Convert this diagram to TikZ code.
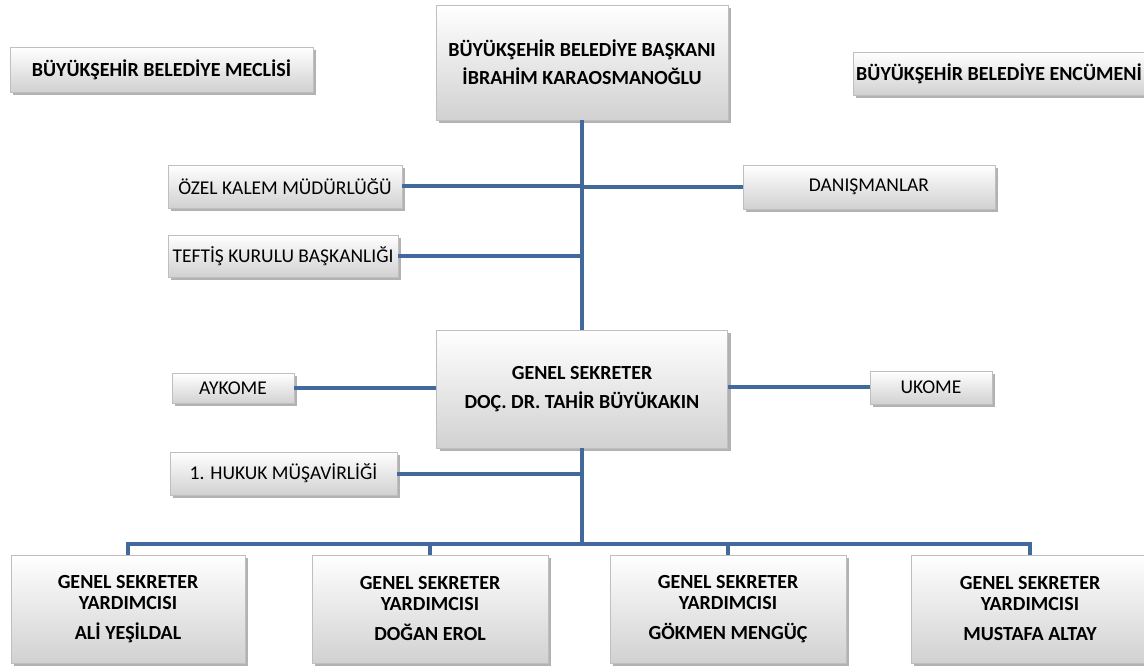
\documentclass[tikz,border=0pt]{standalone}
\usepackage{fontspec}
\setmainfont{Carlito}
\usepackage{tikz}
\usetikzlibrary{shadows}
\definecolor{lineblue}{RGB}{65,105,156}

\begin{document}
\begin{tikzpicture}[x=1pt, y=-1pt,
		box/.style={rectangle, draw=black!25, top color=white, bottom color=black!18, inner sep=0pt, align=center,
			drop shadow={shadow xshift=3pt, shadow yshift=-3pt, fill=black, opacity=0.3},
			font=\fontsize{19.5}{21}\selectfont},
		head/.style={box, font=\fontsize{20}{21}\selectfont\bfseries},
		link/.style={draw=lineblue, line width=4pt}]
		\useasboundingbox (0,0) rectangle (1144,668);
		\node[head, minimum width=303pt, minimum height=45pt] at (161.5,69.5) (meclis) {BÜYÜKŞEHİR BELEDİYE MECLİSİ};
		\node[head, minimum width=292pt, minimum height=115pt] at (582,62.5) (baskan) {BÜYÜKŞEHİR BELEDİYE BAŞKANI\\[7pt]İBRAHİM KARAOSMANOĞLU};
		\node[head, minimum width=292pt, minimum height=43pt] at (999,73.5) (encumen) {BÜYÜKŞEHİR BELEDİYE ENCÜMENİ};
		\node[box, minimum width=234pt, minimum height=43pt] at (285,186.5) (ozel) {ÖZEL KALEM MÜDÜRLÜĞÜ};
		\node[box, minimum width=252pt, minimum height=44pt] at (869,187) (danis) {DANIŞMANLAR};
		\node[box, minimum width=230pt, minimum height=42pt] at (283,256) (teftis) {TEFTİŞ KURULU BAŞKANLIĞI};
		\node[head, minimum width=291pt, minimum height=118pt] at (582,389) (gs) {GENEL SEKRETER\\[8pt]DOÇ. DR. TAHİR BÜYÜKAKIN};
		\node[box, minimum width=122pt, minimum height=30pt] at (233,388.5) (aykome) {AYKOME};
		\node[box, minimum width=122pt, minimum height=33pt] at (931,387.5) (ukome) {UKOME};
		\node[box, minimum width=227pt, minimum height=43pt] at (283.5,473.5) (hukuk) {1. HUKUK MÜŞAVİRLİĞİ};
		\node[head, minimum width=234pt, minimum height=108pt] at (128,609) (yrd1) {GENEL SEKRETER\\YARDIMCISI\\[9pt]ALİ YEŞİLDAL};
		\node[head, minimum width=236pt, minimum height=108pt] at (430,609) (yrd2) {GENEL SEKRETER\\YARDIMCISI\\[9pt]DOĞAN EROL};
		\node[head, minimum width=236pt, minimum height=108pt] at (728,609) (yrd3) {GENEL SEKRETER\\YARDIMCISI\\[9pt]GÖKMEN MENGÜÇ};
		\node[head, minimum width=238pt, minimum height=108pt] at (1030,609) (yrd4) {GENEL SEKRETER\\YARDIMCISI\\[9pt]MUSTAFA ALTAY};
		\coordinate (bus) at (582,544);
		\draw[link] (baskan.south)--(gs.north) (gs.south)--(bus);
		\draw[link] (ozel.east)--(ozel.east -| baskan.south) (teftis.east)--(teftis.east -| baskan.south) (danis.west)--(danis.west -| baskan.south);
		\draw[link] (aykome.east)--(aykome.east -| gs.west) (ukome.west)--(ukome.west -| gs.east) (hukuk.east)--(hukuk.east -| gs.south);
		\draw[link] (yrd1.north) |- (bus) -| (yrd4.north) (yrd2.north) |- (bus) -| (yrd3.north);
	\end{tikzpicture}
\end{document}
